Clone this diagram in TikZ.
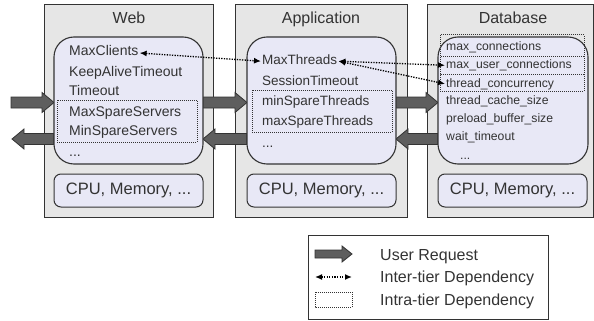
\documentclass[tikz,border=0pt]{standalone}
\usepackage{fontspec}
\setmainfont{Liberation Sans}
\usetikzlibrary{arrows.meta}
\definecolor{tierfill}{HTML}{E6E6E6}
\definecolor{innerfill}{HTML}{E8E8F6}
\definecolor{linec}{HTML}{333333}
\definecolor{txt}{HTML}{333333}
\definecolor{arrfill}{HTML}{5E5E5E}
\newcommand\rblock[3]{\draw[blockar] (#1,#3-5.5) -- (#2-12,#3-5.5) -- (#2-12,#3-10) -- (#2,#3) -- (#2-12,#3+10) -- (#2-12,#3+5.5) -- (#1,#3+5.5) -- cycle;}
\newcommand\lblock[3]{\draw[blockar] (#2,#3-5.5) -- (#1+12,#3-5.5) -- (#1+12,#3-10) -- (#1,#3) -- (#1+12,#3+10) -- (#1+12,#3+5.5) -- (#2,#3+5.5) -- cycle;}
\begin{document}
\begin{tikzpicture}[x=1pt,y=-1pt,
  tierbox/.style={draw=linec,fill=tierfill,line width=0.9pt,outer sep=0pt,inner sep=0pt,minimum height=213pt},
  innerbox/.style={draw=linec,fill=innerfill,line width=1.1pt,rounded corners=20pt,outer sep=0pt,inner sep=0pt,minimum height=127pt},
  cpubox/.style={draw=linec,fill=innerfill,line width=1pt,rounded corners=7pt,outer sep=0pt,inner sep=0pt,minimum height=33pt,text=txt,font=\fontsize{16.5}{18}\selectfont},
  item/.style={anchor=base west,inner sep=1pt,text=txt,font=\fontsize{14}{16}\selectfont},
  appitem/.style={item,font=\fontsize{13.5}{16}\selectfont},
  dbitem/.style={item,font=\fontsize{12.2}{15}\selectfont},
  ttl/.style={anchor=base,inner sep=0pt,text=txt,font=\fontsize{16}{18}\selectfont},
  legtext/.style={anchor=base west,inner sep=0pt,text=txt,font=\fontsize{16}{18}\selectfont},
  intra/.style={draw=linec,line width=1pt,dash pattern=on 1pt off 1pt},
  inter/.style={draw=black,line width=1.3pt,dash pattern=on 1.3pt off 1.3pt,{Latex[length=7pt,width=6pt]}-{Latex[length=7pt,width=6pt]}},
  blockar/.style={draw=linec,fill=arrfill,line width=0.8pt,line join=miter}
]
\useasboundingbox (0,0) rectangle (594,321);

% tiers
\node[tierbox,minimum width=169pt] (web) at (128.5,110.5) {};
\node[tierbox,minimum width=172pt] (app) at (321,110.5) {};
\node[tierbox,minimum width=166pt] (db) at (510,110.5) {};
\node[ttl] (webt) at (129,24) {Web};
\node[ttl] (appt) at (321,24) {Application};
\node[ttl] (dbt) at (513,24) {Database};

% block arrows (user requests)
\rblock{11}{54}{102.5}
\lblock{12}{54}{139}
\rblock{203}{247}{102.5}
\lblock{203}{247}{139}
\rblock{396}{438}{102.5}
\lblock{396}{438}{139}

% inner boxes
\node[innerbox,minimum width=149pt] (webin) at (128.5,100.5) {};
\node[innerbox,minimum width=149pt] (appin) at (321.5,100.5) {};
\node[innerbox,minimum width=150pt] (dbin) at (513,100.5) {};
\node[cpubox,minimum width=149pt] (webcpu) at (128.5,190.5) {CPU, Memory, ...};
\node[cpubox,minimum width=149pt] (appcpu) at (321.5,190.5) {CPU, Memory, ...};
\node[cpubox,minimum width=149pt] (dbcpu) at (512.5,190.5) {CPU, Memory, ...};

% web items
\node[item] (mc) at (68,56) {MaxClients};
\node[item] (kat) at (68,76) {KeepAliveTimeout};
\node[item] (to) at (68,95.5) {Timeout};
\node[item] (maxss) at (68,116) {MaxSpareServers};
\node[item] (minss) at (68,135.5) {MinSpareServers};
\node[item] (wdots) at (68,156) {...};
\draw[intra] (57,100) rectangle (197,142);

% app items
\node[appitem] (mt) at (261,65) {MaxThreads};
\node[appitem] (st) at (261,85) {SessionTimeout};
\node[appitem] (minst) at (261,105) {minSpareThreads};
\node[appitem] (maxst) at (261,125) {maxSpareThreads};
\node[appitem] (adots) at (261,147) {...};
\draw[intra] (252,90) rectangle (392,132);

% db items
\node[dbitem] (mxc) at (445,51) {max\_connections};
\node[dbitem] (muc) at (445,68.5) {max\_user\_connections};
\node[dbitem] (tc) at (445,87) {thread\_concurrency};
\node[dbitem] (tcs) at (445,104.5) {thread\_cache\_size};
\node[dbitem] (pbs) at (445,122.5) {preload\_buffer\_size};
\node[dbitem] (wt) at (445,140.5) {wait\_timeout};
\node[dbitem] (ddots) at (459,159) {...};
\draw[intra] (440,35) rectangle (584,74);
\draw[intra] (440,57) rectangle (584,91);

% inter-tier dependencies
\draw[inter] ([yshift=-2pt]mc.east) -- ([yshift=-1pt]mt.west);
\draw[inter] ([yshift=-1pt]mt.east) -- (muc.west);
\draw[inter] ([yshift=-1pt]mt.east) -- (tc.west);

% legend
\node[draw=linec,line width=0.8pt,minimum width=240pt,minimum height=84pt,inner sep=0pt,outer sep=0pt] (legend) at (428,277) {};
\draw[blockar] (315,250) -- (342,250) -- (342,246) -- (352,254) -- (342,262) -- (342,258) -- (315,258) -- cycle;
\coordinate (la) at (315,277);
\coordinate (lb) at (352,277);
\draw[inter] (la) -- (lb);
\draw[intra] (315,292) rectangle (352,307);
\node[legtext] (lt1) at (380,260) {User Request};
\node[legtext] (lt2) at (380,282) {Inter-tier Dependency};
\node[legtext] (lt3) at (380,305) {Intra-tier Dependency};
\end{tikzpicture}
\end{document}
